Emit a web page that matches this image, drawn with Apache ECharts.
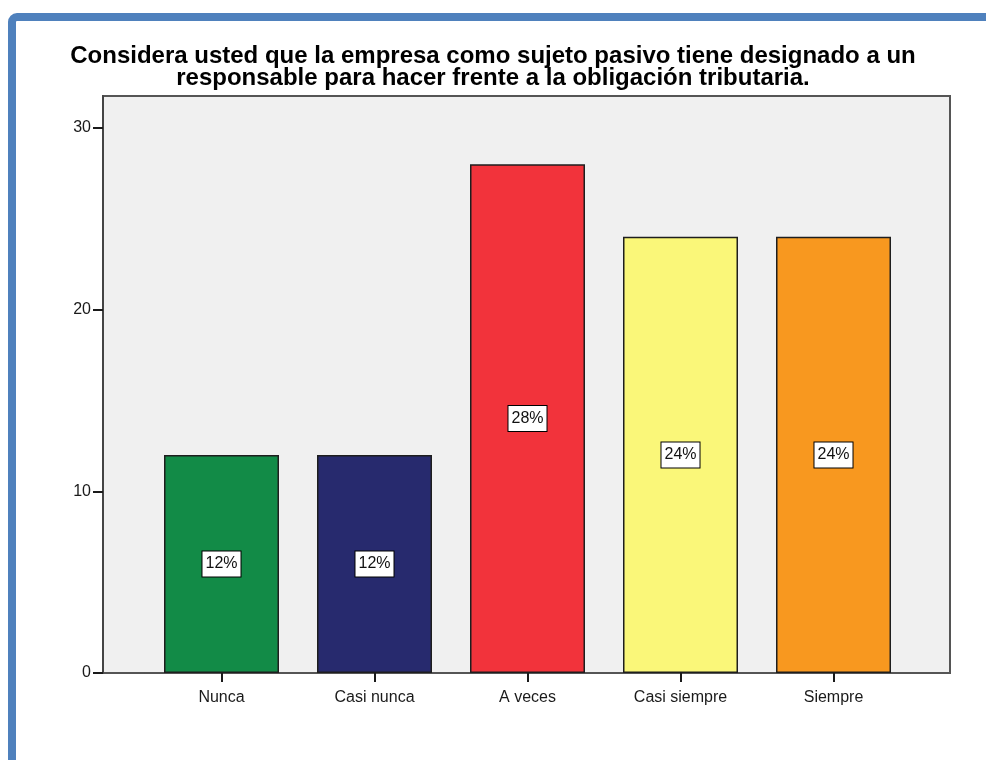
<!DOCTYPE html>
<html>
<head>
<meta charset="utf-8">
<title>Responsable de la obligación tributaria</title>
<script src="https://cdn.jsdelivr.net/npm/echarts@6/dist/echarts.min.js"></script>
<style>
  html, body { margin: 0; padding: 0; background: #ffffff; }
  #chart { width: 986px; height: 760px; }
</style>
</head>
<body>
<div id="chart"></div>
<script>
// Survey answers and their counts
const categories = ['Nunca', 'Casi nunca', 'A veces', 'Casi siempre', 'Siempre'];
const counts = [12, 12, 28, 24, 24];
const percents = [12, 12, 28, 24, 24];
const barColors = ['#128b47', '#272a6e', '#f2333b', '#faf779', '#f8981f'];
const yTicks = [0, 10, 20, 30];

const titleText = 'Considera usted que la empresa como sujeto pasivo tiene designado a un\nresponsable para hacer frente a la obligación tributaria.';
const fontFamily = "'Liberation Sans', Arial, sans-serif";
const yMax = 31.75;

const chart = echarts.init(document.getElementById('chart'), null, { renderer: 'canvas' });

chart.setOption({
  backgroundColor: '#ffffff',
  animation: false,
  title: {
    text: titleText,
    left: 488,
    top: 40,
    textAlign: 'center',
    textStyle: {
      fontFamily: fontFamily,
      fontSize: 24,
      fontWeight: 'bold',
      lineHeight: 22,
      color: '#000000'
    }
  },
  graphic: [
    {
      // blue frame around the output
      type: 'rect',
      z: 100,
      shape: { x: 12, y: 17, width: 1100, height: 900, r: 5 },
      style: { fill: 'none', stroke: '#4f81bd', lineWidth: 8 }
    }
  ],
  grid: [
    {
      // plot frame with grey background
      left: 103, right: 36, top: 96, bottom: 87,
      show: true,
      backgroundColor: '#f0f0f0',
      borderColor: '#555555',
      borderWidth: 2,
      containLabel: false
    },
    {
      // inner band holding the bars
      left: 145, right: 76, top: 96, bottom: 87,
      containLabel: false
    }
  ],
  xAxis: [
    {
      gridIndex: 0,
      type: 'value',
      show: false,
      min: 0, max: 1
    },
    {
      gridIndex: 1,
      type: 'category',
      data: categories,
      axisLine: { show: true, lineStyle: { color: '#555555', width: 2 } },
      axisTick: { show: true, alignWithLabel: true, length: 9, lineStyle: { color: '#1a1a1a', width: 2 } },
      axisLabel: {
        margin: 17,
        fontFamily: fontFamily,
        fontSize: 16,
        color: '#1a1a1a'
      },
      splitLine: { show: false }
    }
  ],
  yAxis: [
    {
      gridIndex: 0,
      type: 'value',
      min: 0,
      max: yMax,
      axisLine: { show: true, lineStyle: { color: '#444444', width: 2 } },
      axisTick: { show: true, length: 10, customValues: yTicks, lineStyle: { color: '#1a1a1a', width: 2 } },
      axisLabel: {
        margin: 12,
        customValues: yTicks,
        fontFamily: fontFamily,
        fontSize: 16,
        color: '#1a1a1a'
      },
      splitLine: { show: false }
    },
    {
      gridIndex: 1,
      type: 'value',
      min: 0,
      max: yMax,
      show: false,
      splitLine: { show: false }
    }
  ],
  series: [
    {
      type: 'bar',
      xAxisIndex: 1,
      yAxisIndex: 1,
      barWidth: 115,
      data: counts.map((v, i) => ({
        value: v,
        itemStyle: { color: barColors[i] }
      })),
      itemStyle: { borderColor: '#1e1e1e', borderWidth: 1.5 },
      label: {
        show: true,
        position: 'inside',
        formatter: (p) => percents[p.dataIndex] + '%',
        fontFamily: fontFamily,
        fontSize: 16,
        color: '#111111',
        backgroundColor: '#ffffff',
        borderColor: '#000000',
        borderWidth: 1,
        padding: [5, 3, 4, 3]
      }
    }
  ]
});
</script>
</body>
</html>
